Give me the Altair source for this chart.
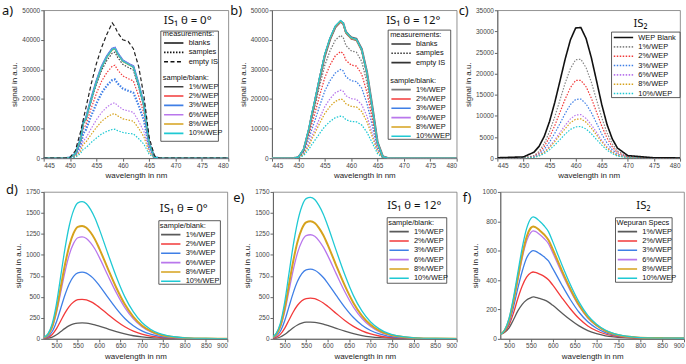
import altair as alt
import pandas as pd

FONT = "Liberation Sans"
SAMPLES = ["1%/WEP", "2%/WEP", "3%/WEP", "6%/WEP", "8%/WEP", "10%/WEP"]
COLORS = ["#404040", "#f23a3a", "#3f7fe6", "#b977ec", "#d6a21c", "#1fc9d3"]

# ---------------- excitation region, integrating sphere IS1 (theta = 0 deg) ----------------
WL_EXC = [445, 447, 449, 450, 451, 452, 452.5, 453, 454, 455, 456, 457, 458, 458.5,
          459, 460, 461, 462, 463, 464, 465, 466, 467, 470, 475, 480]

A_BLANKS = {
    "1%/WEP": [0, 0, 0, 200, 1500, 6400, 11900, 13400, 19900, 25900, 30900, 34400, 36900, 37200, 35400, 32900, 31900, 30900, 24900, 17900, 5000, 300, 0, 0, 0, 0],
    "2%/WEP": [0, 0, 0, 200, 1500, 6500, 12000, 13500, 20000, 26000, 31000, 34500, 37000, 37300, 35500, 33000, 32000, 31000, 25000, 18000, 5000, 300, 0, 0, 0, 0],
    "3%/WEP": [0, 0, 0, 200, 1500, 6500, 12000, 13500, 20000, 26000, 31000, 34500, 37000, 37300, 35500, 33000, 32000, 31000, 25000, 18000, 5000, 300, 0, 0, 0, 0],
    "6%/WEP": [0, 0, 0, 200, 1500, 6500, 12000, 13500, 20000, 26000, 31000, 34500, 37000, 37300, 35500, 33000, 32000, 31000, 25000, 18000, 5000, 300, 0, 0, 0, 0],
    "8%/WEP": [0, 0, 0, 200, 1400, 6300, 11800, 13300, 19700, 25700, 30700, 34200, 36600, 36900, 35200, 32700, 31700, 30700, 24800, 17800, 4900, 300, 0, 0, 0, 0],
    "10%/WEP": [0, 0, 0, 200, 1500, 6400, 11900, 13400, 19800, 25800, 30800, 34300, 36800, 37100, 35300, 32800, 31800, 30800, 24900, 17900, 5000, 300, 0, 0, 0, 0],
}
A_SAMPLES = {
    "1%/WEP": [0, 0, 0, 150, 1300, 6000, 11300, 12900, 19200, 25000, 29800, 33100, 35500, 35800, 34100, 31700, 30700, 29800, 24000, 17300, 4800, 300, 0, 0, 0, 0],
    "2%/WEP": [0, 0, 0, 100, 1000, 5000, 9800, 11300, 16800, 21900, 26100, 29000, 31100, 31400, 29900, 27800, 26900, 26100, 21000, 15100, 4200, 200, 0, 0, 0, 0],
    "3%/WEP": [0, 0, 0, 80, 800, 4300, 8300, 9600, 14300, 18500, 22100, 24600, 26400, 26600, 25300, 23500, 22800, 22100, 17800, 12800, 3600, 200, 0, 0, 0, 0],
    "6%/WEP": [0, 0, 0, 50, 600, 3000, 5800, 6800, 10000, 13000, 15500, 17300, 18500, 18700, 17800, 16500, 16000, 15500, 12500, 9000, 2500, 150, 0, 0, 0, 0],
    "8%/WEP": [0, 0, 0, 40, 500, 2400, 4700, 5400, 8000, 10400, 12500, 13900, 14900, 15000, 14300, 13300, 12900, 12500, 10100, 7200, 2000, 100, 0, 0, 0, 0],
    "10%/WEP": [0, 0, 0, 20, 300, 1600, 3000, 3500, 5300, 6800, 8200, 9100, 9700, 9800, 9300, 8700, 8400, 8200, 6600, 4700, 1300, 80, 0, 0, 0, 0],
}
A_EMPTY = [0, 0, 0, 300, 2500, 9000, 13000, 17000, 25000, 32000, 37500, 42000, 45700, 44500,
           42500, 40000, 39500, 37000, 31000, 21000, 7000, 800, 0, 0, 0, 0]

# ---------------- excitation region, IS1 (theta = 12 deg) ----------------
B_BLANKS = {
    "1%/WEP": [0, 0, 0, 300, 2900, 9800, 14300, 18300, 26700, 34700, 40200, 44200, 46000, 45300, 42300, 40300, 39800, 36300, 28300, 16800, 4900, 500, 0, 0, 0, 0],
    "2%/WEP": [0, 0, 0, 300, 3000, 9900, 14400, 18400, 26900, 34900, 40400, 44400, 46200, 45400, 42400, 40400, 39900, 36400, 28400, 16900, 5000, 500, 0, 0, 0, 0],
    "3%/WEP": [0, 0, 0, 300, 3000, 10000, 14500, 18500, 27000, 35000, 40500, 44500, 46300, 45500, 42500, 40500, 40000, 36500, 28500, 17000, 5000, 500, 0, 0, 0, 0],
    "6%/WEP": [0, 0, 0, 300, 3100, 10100, 14600, 18600, 27100, 35100, 40600, 44600, 46400, 45600, 42600, 40600, 40100, 36600, 28600, 17100, 5100, 500, 0, 0, 0, 0],
    "8%/WEP": [0, 0, 0, 300, 3000, 10000, 14500, 18500, 27000, 35000, 40500, 44500, 46300, 45500, 42500, 40500, 40000, 36500, 28500, 17000, 5000, 500, 0, 0, 0, 0],
    "10%/WEP": [0, 0, 0, 350, 3100, 10200, 14700, 18700, 27200, 35200, 40700, 44700, 46500, 45700, 42700, 40700, 40200, 36700, 28700, 17200, 5100, 500, 0, 0, 0, 0],
}
B_SAMPLES = {
    "1%/WEP": [0, 0, 0, 250, 2600, 9000, 13000, 16600, 24200, 31400, 36300, 39900, 41500, 40800, 38100, 36300, 35800, 32700, 25500, 15200, 4500, 400, 0, 0, 0, 0],
    "2%/WEP": [0, 0, 0, 250, 2300, 7800, 11300, 14400, 21000, 27200, 31500, 34600, 36000, 35400, 33100, 31500, 31100, 28400, 22200, 13200, 3900, 400, 0, 0, 0, 0],
    "3%/WEP": [0, 0, 0, 200, 1900, 6500, 9400, 12000, 17500, 22700, 26200, 28800, 30000, 29500, 27500, 26200, 25900, 23700, 18500, 11000, 3200, 300, 0, 0, 0, 0],
    "6%/WEP": [0, 0, 0, 150, 1500, 5000, 7200, 9200, 13400, 17400, 20100, 22100, 23000, 22600, 21100, 20100, 19900, 18100, 14200, 8400, 2500, 250, 0, 0, 0, 0],
    "8%/WEP": [0, 0, 0, 130, 1300, 4300, 6300, 8000, 11700, 15100, 17500, 19200, 20000, 19700, 18400, 17500, 17300, 15800, 12300, 7300, 2200, 200, 0, 0, 0, 0],
    "10%/WEP": [0, 0, 0, 90, 900, 3100, 4500, 5700, 8300, 10700, 12400, 13700, 14200, 14000, 13000, 12400, 12300, 11200, 8700, 5200, 1500, 150, 0, 0, 0, 0],
}
B_EMPTY = [0, 0, 0, 300, 2800, 9600, 14000, 18000, 26500, 34500, 40200, 44300, 46200, 45600,
           42700, 40800, 40300, 36900, 29000, 17600, 5400, 600, 0, 0, 0, 0]

# ---------------- excitation region, integrating sphere IS2 ----------------
WL_C = [445, 450, 452, 453, 454, 455, 456, 457, 458, 459, 460, 461, 462, 463, 464, 465,
        466, 467, 468, 470, 475, 480]
C_BLANK = [100, 300, 1400, 2800, 5200, 8700, 13200, 18300, 23500, 28000, 30800, 30900, 28300,
           23800, 18300, 12700, 8000, 4600, 2400, 600, 100, 50]
C_SAMPLES = {
    "1%/WEP": [0, 50, 600, 1600, 3500, 6300, 9800, 13800, 17800, 21200, 23300, 23400, 21400, 18000, 13800, 9600, 6000, 3400, 1700, 400, 0, 0],
    "2%/WEP": [0, 30, 450, 1250, 2800, 5000, 7700, 10900, 14000, 16700, 18400, 18400, 16900, 14200, 10900, 7600, 4800, 2700, 1300, 300, 0, 0],
    "3%/WEP": [0, 20, 350, 950, 2100, 3800, 5900, 8200, 10600, 12700, 13900, 14000, 12800, 10800, 8300, 5700, 3600, 2000, 1000, 200, 0, 0],
    "6%/WEP": [0, 15, 250, 700, 1500, 2800, 4300, 6100, 7800, 9300, 10200, 10300, 9400, 7900, 6100, 4200, 2700, 1500, 700, 150, 0, 0],
    "8%/WEP": [0, 15, 230, 630, 1400, 2500, 3900, 5500, 7000, 8400, 9200, 9300, 8500, 7100, 5500, 3800, 2400, 1400, 650, 130, 0, 0],
    "10%/WEP": [0, 10, 180, 500, 1100, 2000, 3100, 4400, 5700, 6800, 7400, 7500, 6900, 5800, 4400, 3100, 1900, 1100, 500, 100, 0, 0],
}

# ---------------- emission region ----------------
WL_EM = [470, 480, 490, 500, 510, 520, 530, 540, 550, 560, 570, 580, 590, 600, 620, 640,
         660, 680, 700, 720, 740, 760, 780, 800, 850, 900]
D_EM = {
    "1%/WEP": [2, 7, 21, 49, 87, 125, 157, 178, 188, 190, 187, 179, 167, 152, 119, 86, 58, 37, 23, 13, 8, 4, 3, 1, 0, 0],
    "2%/WEP": [6, 17, 52, 121, 216, 310, 388, 440, 466, 470, 463, 443, 414, 377, 293, 213, 144, 92, 56, 33, 19, 11, 6, 3, 1, 1],
    "3%/WEP": [10, 29, 87, 204, 365, 525, 656, 744, 787, 795, 782, 748, 700, 637, 496, 360, 243, 156, 95, 56, 32, 18, 11, 6, 2, 1],
    "6%/WEP": [15, 45, 134, 312, 557, 802, 1003, 1137, 1204, 1215, 1196, 1144, 1070, 973, 758, 550, 372, 238, 145, 85, 48, 28, 16, 9, 3, 1],
    "8%/WEP": [16, 49, 148, 345, 617, 888, 1110, 1259, 1333, 1345, 1324, 1267, 1185, 1078, 839, 609, 411, 263, 160, 95, 53, 31, 18, 10, 3, 2],
    "10%/WEP": [20, 60, 180, 420, 750, 1080, 1350, 1530, 1620, 1635, 1610, 1540, 1440, 1310, 1020, 740, 500, 320, 195, 115, 65, 38, 22, 12, 4, 2],
}
E_EM = {
    "1%/WEP": [2, 7, 22, 51, 92, 132, 165, 187, 198, 200, 197, 188, 176, 160, 125, 91, 61, 39, 24, 14, 8, 5, 3, 1, 0, 0],
    "2%/WEP": [6, 18, 53, 125, 222, 320, 400, 454, 480, 485, 478, 457, 427, 389, 303, 219, 148, 95, 58, 34, 19, 11, 7, 4, 1, 1],
    "3%/WEP": [10, 30, 91, 213, 381, 548, 685, 777, 822, 830, 817, 782, 731, 665, 518, 376, 254, 162, 99, 58, 33, 19, 11, 6, 2, 1],
    "6%/WEP": [15, 46, 137, 319, 569, 819, 1024, 1160, 1229, 1240, 1221, 1168, 1092, 994, 774, 561, 379, 243, 148, 87, 49, 29, 17, 9, 3, 2],
    "8%/WEP": [17, 51, 154, 360, 642, 925, 1156, 1310, 1387, 1400, 1379, 1319, 1233, 1122, 873, 634, 428, 274, 167, 98, 56, 33, 19, 10, 3, 2],
    "10%/WEP": [21, 62, 185, 433, 773, 1113, 1391, 1577, 1670, 1685, 1659, 1587, 1484, 1350, 1051, 763, 515, 330, 201, 119, 67, 39, 23, 12, 4, 2],
}
WL_F = [480, 490, 500, 510, 520, 530, 540, 550, 555, 560, 570, 580, 590, 600, 620, 640,
        660, 680, 700, 720, 740, 760, 780, 800, 850, 900]
F_EM = {
    "1%/WEP": [30, 45, 75, 130, 190, 235, 265, 280, 285, 283, 275, 265, 250, 228, 178, 130, 88, 56, 35, 21, 13, 8, 5, 3, 2, 2],
    "2%/WEP": [30, 50, 95, 175, 275, 360, 420, 450, 455, 452, 440, 425, 402, 365, 283, 205, 138, 88, 55, 33, 20, 12, 8, 5, 3, 2],
    "3%/WEP": [30, 55, 110, 215, 345, 460, 550, 593, 600, 597, 580, 558, 530, 478, 370, 268, 181, 116, 72, 43, 26, 16, 10, 6, 4, 3],
    "6%/WEP": [30, 58, 127, 250, 400, 550, 665, 725, 735, 731, 710, 683, 648, 585, 452, 328, 222, 142, 89, 53, 32, 19, 12, 8, 4, 3],
    "8%/WEP": [30, 58, 130, 258, 415, 572, 692, 756, 765, 761, 738, 710, 673, 608, 470, 341, 230, 148, 92, 55, 33, 20, 13, 8, 5, 4],
    "10%/WEP": [30, 60, 140, 280, 450, 620, 750, 820, 830, 825, 800, 770, 730, 660, 510, 370, 250, 160, 100, 60, 36, 22, 14, 9, 5, 4],
}

DOT = [1.5, 1.5]
SOLID = [1, 0]
DASH = [4, 2.5]


def rows(wl, series, meas):
    out = []
    for name, vals in series.items():
        for w, v in zip(wl, vals):
            out.append({"wl": w, "val": v, "sample": name, "meas": meas})
    return out


def x_enc(dom, ticks):
    return alt.X("wl:Q", scale=alt.Scale(domain=dom, nice=False, zero=False),
                 axis=alt.Axis(values=ticks, title="wavelength in nm", format="d"))


def y_enc(dom, ticks):
    return alt.Y("val:Q", scale=alt.Scale(domain=dom, nice=False),
                 axis=alt.Axis(values=ticks, title="signal in a.u.", format="d"))


def one(text):
    return pd.DataFrame({"t": [text]})


def decorations(letter, label, lx, ly, box, letter_dx, letter_dy):
    """Panel letter, the in-plot caption and the white legend frame."""
    frame = alt.Chart(one("")).mark_rect(fill="white", stroke="#333", strokeWidth=0.8).encode(
        x=alt.value(box[0]), x2=alt.value(box[1]), y=alt.value(box[2]), y2=alt.value(box[3]))
    cap = alt.Chart(one(label)).mark_text(
        font="Noto Sans", fontSize=11.5, align="left", baseline="middle", color="#111"
    ).encode(text="t:N", x=alt.value(lx), y=alt.value(ly))
    let = alt.Chart(one(letter)).mark_text(
        font="Noto Sans", fontSize=13, align="left", baseline="top", color="#111"
    ).encode(text="t:N", x=alt.value(letter_dx), y=alt.value(letter_dy))
    return frame, cap, let


LEG = dict(orient="none", symbolType="stroke", symbolSize=380, clipHeight=9, rowPadding=0.4,
           padding=0, titlePadding=1, labelOffset=4)


def color_enc(colors, title, domain=SAMPLES, values=None, lx=0, ly=0):
    kw = dict(LEG, legendX=lx, legendY=ly)
    if values is not None:
        kw["values"] = values
    return alt.Color("sample:N", scale=alt.Scale(domain=domain, range=colors),
                     title=title, legend=alt.Legend(**kw))


# ---------- panel a ----------
a_df = pd.DataFrame(rows(WL_EXC, A_SAMPLES, "samples") + rows(WL_EXC, A_BLANKS, "blanks")
                    + rows(WL_EXC, {"empty": A_EMPTY}, "empty IS"))
a_lines = alt.Chart(a_df).mark_line(clip=True).encode(
    x=x_enc([445, 480], [445, 450, 455, 460, 465, 470, 475, 480]),
    y=y_enc([0, 50000], [0, 10000, 20000, 30000, 40000, 50000]),
    color=color_enc(COLORS + ["#222222"], "sample/blank:", SAMPLES + ["empty"], SAMPLES, 120, 64),
    strokeDash=alt.StrokeDash("meas:N", scale=alt.Scale(domain=["blanks", "samples", "empty IS"], range=[SOLID, DOT, DASH]),
                              title="measurements:",
                              legend=alt.Legend(**LEG, legendX=120, legendY=20, symbolStrokeColor="#111")),
    strokeWidth=alt.condition(alt.datum.sample == "3%/WEP", alt.value(2.2), alt.value(1.2)),
)
fa, ca, la = decorations("a)", "IS₁ θ = 0°", 121, 11, (118, 176, 21, 132), -42, -5)
panel_a = alt.layer(a_lines, fa, ca, la).properties(width=186, height=149)

# ---------- panel b ----------
b_df = pd.DataFrame(rows(WL_EXC, B_SAMPLES, "samples") + rows(WL_EXC, {"empty": B_EMPTY}, "empty IS")
                    + rows(WL_EXC, B_BLANKS, "blanks"))
B_COLORS = ["#7a7a7a"] + COLORS[1:] + ["#666666"]
b_lines = alt.Chart(b_df).mark_line(clip=True).encode(
    x=x_enc([445, 480], [445, 450, 455, 460, 465, 470, 475, 480]),
    y=y_enc([0, 50000], [0, 10000, 20000, 30000, 40000, 50000]),
    color=color_enc(B_COLORS, "sample/blank:", SAMPLES + ["empty"], SAMPLES, 119, 67),
    strokeDash=alt.StrokeDash("meas:N", scale=alt.Scale(domain=["blanks", "samples", "empty IS"], range=[SOLID, DOT, SOLID]),
                              title="measurements:",
                              legend=alt.Legend(**LEG, legendX=119, legendY=21, symbolStrokeColor="#333")),
    strokeWidth=alt.condition(alt.datum.meas == "empty IS", alt.value(2.2), alt.value(1.3)),
)
fb, cb, lb = decorations("b)", "IS₁ θ = 12°", 115, 11, (117, 180, 20, 130), -42, -5)
panel_b = alt.layer(b_lines, fb, cb, lb).properties(width=186, height=149)

# ---------- panel c ----------
c_df = pd.DataFrame(rows(WL_C, C_SAMPLES, "samples") + rows(WL_C, {"WEP Blank": C_BLANK}, "blanks"))
C_DOM = ["WEP Blank"] + SAMPLES
c_lines = alt.Chart(c_df).mark_line(clip=True).encode(
    x=x_enc([445, 480], [445, 450, 455, 460, 465, 470, 475, 480]),
    y=y_enc([0, 35000], [0, 5000, 10000, 15000, 20000, 25000, 30000, 35000]),
    color=alt.Color("sample:N", scale=alt.Scale(domain=C_DOM, range=["#111111", "#888888"] + COLORS[1:]),
                    title=None, legend=alt.Legend(**LEG, legendX=116, legendY=23)),
    strokeDash=alt.StrokeDash("sample:N", scale=alt.Scale(domain=C_DOM, range=[SOLID] + [DOT] * 6), title=None),
    strokeWidth=alt.condition(alt.datum.sample == "WEP Blank", alt.value(1.6), alt.value(1.2)),
)
fc, cc, lc = decorations("c)", "IS₂", 137, 14, (115, 184, 22, 88), -39, -5)
panel_c = alt.layer(c_lines, fc, cc, lc).properties(width=184, height=149)


# ---------- emission panels ----------
def emission(wl, data, xdom, ydom, yticks, title, letter, label, lx, ly, box, ldx, ldy, cols):
    df = pd.DataFrame(rows(wl, data, "samples"))
    lines = alt.Chart(df).mark_line(clip=True, interpolate="monotone").encode(
        x=x_enc(xdom, [500, 550, 600, 650, 700, 750, 800, 850, 900]),
        y=y_enc(ydom, yticks),
        color=color_enc(cols, title, SAMPLES, None, box[0] + 1, box[2] + 1),
        strokeWidth=alt.condition(alt.datum.sample == "8%/WEP", alt.value(2.0), alt.value(1.3)),
    )
    f, c, l = decorations(letter, label, lx, ly, box, ldx, ldy)
    return alt.layer(lines, f, c, l).properties(width=185, height=148)


GRAY_COLORS = ["#5a5a5a"] + COLORS[1:]
panel_d = emission(WL_EM, D_EM, [470, 900], [0, 1750], [0, 250, 500, 750, 1000, 1250, 1500, 1750],
                   "sample/blank:", "d)", "IS₁ θ = 0°", 117, 17, (116, 178, 29, 93), -38, -8, GRAY_COLORS)
panel_e = emission(WL_EM, E_EM, [473, 900], [0, 1750], [0, 250, 500, 750, 1000, 1250, 1500, 1750],
                   "sample/blank:", "e)", "IS₁ θ = 12°", 115, 14, (115, 175, 26, 92), -40, 0, GRAY_COLORS)
panel_f = emission(WL_F, F_EM, [480, 900], [0, 1000], [0, 200, 400, 600, 800, 1000],
                   "Wepuran Specs", "f)", "IS₂", 137, 14, (116, 173, 26, 91), -38, 0, GRAY_COLORS)

INDEP = dict(color="independent", strokeDash="independent", strokeWidth="independent")

top = alt.hconcat(panel_a, panel_b, panel_c, spacing=0).resolve_scale(**INDEP).resolve_legend(
    color="independent", strokeDash="independent")
bottom = alt.hconcat(panel_d, panel_e, panel_f, spacing=4).resolve_scale(**INDEP).resolve_legend(
    color="independent", strokeDash="independent")

chart = alt.vconcat(top, bottom, spacing=3).resolve_scale(**INDEP).resolve_legend(
    color="independent", strokeDash="independent"
).properties(
    padding={"left": 1, "top": 3, "right": 1, "bottom": 0}
).configure_view(
    stroke="#777", strokeWidth=0.8
).configure_axis(
    labelFont=FONT, labelFontSize=6.5, labelColor="#444", titleFont=FONT, titleFontSize=8,
    titleFontWeight="normal", titleColor="#222", domainColor="#666", tickColor="#666",
    tickSize=3, grid=False, labelPadding=1, titlePadding=3
).configure_legend(
    labelFont=FONT, labelFontSize=7.5, labelColor="#111", titleFont=FONT, titleFontSize=7.5,
    titleFontWeight="normal", titleColor="#111", symbolStrokeWidth=1.6, labelLimit=80
)

chart.save("out.html", embed_options={"renderer": "svg", "actions": False})
